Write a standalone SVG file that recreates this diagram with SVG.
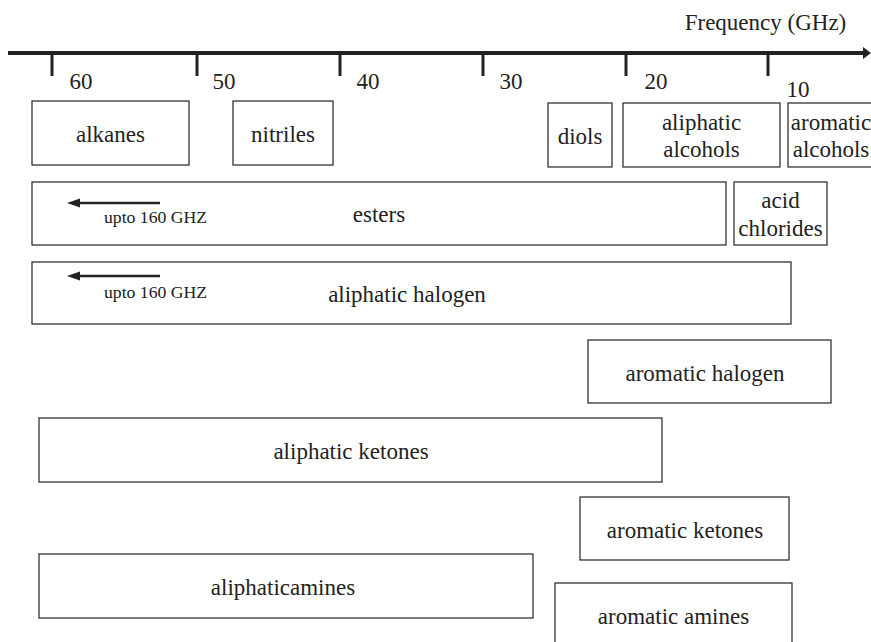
<svg xmlns="http://www.w3.org/2000/svg" width="871" height="642" viewBox="0 0 871 642">
<style>
.b{fill:#fff;stroke:#333;stroke-width:1.3}
text{font-family:'Liberation Serif','Times New Roman',Times,serif;fill:#222}
.t{font-size:23px;text-anchor:middle}
.s{font-size:17.7px}
.ax{stroke:#222;stroke-width:4;fill:none}
.tk{stroke:#222;stroke-width:3}
</style>
<defs>
<marker id="ah" markerWidth="13" markerHeight="10" refX="2" refY="5" orient="auto" markerUnits="userSpaceOnUse">
<path d="M0,0.5 L13,5 L0,9.5 z" fill="#222"/>
</marker>
</defs>
<rect width="871" height="642" fill="#fff"/>
<g id="axis">
<line class="ax" x1="8" y1="53" x2="866" y2="53"/>
<path d="M863,47 L871,53 L863,59 z" fill="#222"/>
<line class="tk" x1="52" y1="53" x2="52" y2="76"/>
<line class="tk" x1="197" y1="53" x2="197" y2="76"/>
<line class="tk" x1="340" y1="53" x2="340" y2="76"/>
<line class="tk" x1="483" y1="53" x2="483" y2="76"/>
<line class="tk" x1="626" y1="53" x2="626" y2="76"/>
<line class="tk" x1="768" y1="53" x2="768" y2="76"/>
<text class="t" x="81" y="89">60</text>
<text class="t" x="224" y="89">50</text>
<text class="t" x="368" y="89">40</text>
<text class="t" x="511" y="89">30</text>
<text class="t" x="656" y="89">20</text>
<text class="t" x="798" y="97">10</text>
<text class="t" x="765.5" y="30">Frequency (GHz)</text>
</g>
<g id="alkanes"><rect class="b" x="32" y="101" width="157" height="64"/><text class="t" x="110.5" y="141.5">alkanes</text></g>
<g id="nitriles"><rect class="b" x="233" y="101" width="100" height="64"/><text class="t" x="283" y="141.5">nitriles</text></g>
<g id="diols"><rect class="b" x="548" y="103" width="64" height="64"/><text class="t" x="580" y="143.5">diols</text></g>
<g id="aliphatic-alcohols"><rect class="b" x="623" y="103" width="157" height="64"/><text class="t" x="701.5" y="130">aliphatic</text><text class="t" x="701.5" y="157">alcohols</text></g>
<g id="aromatic-alcohols"><rect class="b" x="788" y="103" width="90" height="64"/><text class="t" x="831" y="130">aromatic</text><text class="t" x="831" y="157">alcohols</text></g>
<g id="esters"><rect class="b" x="32" y="182" width="694" height="63"/><text class="t" x="379" y="222">esters</text><text class="s" x="104" y="223">upto 160 GHZ</text></g>
<g id="acid-chlorides"><rect class="b" x="734" y="182" width="93" height="63"/><text class="t" x="780.5" y="208">acid</text><text class="t" x="780.5" y="236">chlorides</text></g>
<g id="aliphatic-halogen"><rect class="b" x="32" y="262" width="759" height="62"/><text class="t" x="407" y="301.5">aliphatic halogen</text><text class="s" x="104" y="298">upto 160 GHZ</text></g>
<g id="aromatic-halogen"><rect class="b" x="588" y="340" width="243" height="63"/><text class="t" x="705" y="380.5">aromatic halogen</text></g>
<g id="aliphatic-ketones"><rect class="b" x="39" y="418" width="623" height="64"/><text class="t" x="351" y="458.5">aliphatic ketones</text></g>
<g id="aromatic-ketones"><rect class="b" x="580" y="497" width="209" height="63"/><text class="t" x="685" y="537.5">aromatic ketones</text></g>
<g id="aliphaticamines"><rect class="b" x="39" y="554" width="494" height="64"/><text class="t" x="283" y="594.5">aliphaticamines</text></g>
<g id="aromatic-amines"><rect class="b" x="555" y="583" width="237" height="70"/><text class="t" x="673.5" y="624">aromatic amines</text></g>
<g id="connectors">
<line x1="160" y1="203" x2="78" y2="203" stroke="#222" stroke-width="2.5" marker-end="url(#ah)"/>
<line x1="160" y1="276" x2="78" y2="276" stroke="#222" stroke-width="2.5" marker-end="url(#ah)"/>
</g>
</svg>
